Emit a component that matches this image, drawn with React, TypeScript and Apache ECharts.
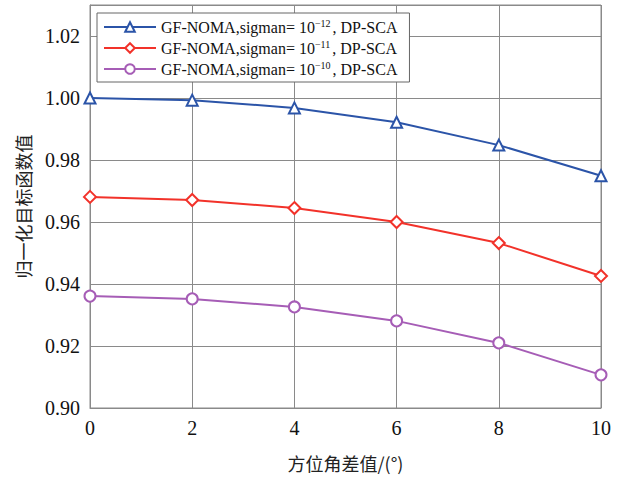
import React, { useEffect, useRef } from "react";
import * as echarts from "echarts";

const xValues = [0, 2, 4, 6, 8, 10];
const blueValues = [1.0, 0.9993, 0.9968, 0.9922, 0.9848, 0.9749];
const redValues = [0.9681, 0.9671, 0.9645, 0.96, 0.9532, 0.9426];
const purpleValues = [0.9361, 0.9352, 0.9326, 0.9281, 0.921, 0.9107];
const seriesNames = ["s12", "s11", "s10"];
const seriesExps = ["−12", "−11", "−10"];
const seriesColors = ["#2b54a8", "#f2322a", "#a65db6"];
const seriesSymbols = ["triangle", "diamond", "circle"];
const xAxisName = "方位角差值/(°)";
const yAxisName = "归一化目标函数值";

export default function App() {
  const ref = useRef<HTMLDivElement>(null);
  useEffect(() => {
    if (!ref.current) return;
    const chart = echarts.init(ref.current, null, { renderer: "svg" });
    const allValues = [blueValues, redValues, purpleValues];
    const font = "'Liberation Serif', 'Times New Roman', serif";
    chart.setOption({
      animation: false,
      backgroundColor: "#fff",
      grid: { left: 90, right: 23, top: 5, bottom: 69, show: true, borderColor: "#8a8a8a", borderWidth: 1 },
      legend: {
        orient: "vertical",
        left: 97,
        top: 13,
        data: seriesNames,
        backgroundColor: "#fff",
        borderColor: "#666",
        borderWidth: 1,
        borderRadius: 0,
        padding: [5, 12, 5, 6],
        itemGap: 4,
        itemWidth: 52,
        itemHeight: 12,
        formatter: (name: string) => {
          const i = seriesNames.indexOf(name);
          return "GF-NOMA,sigman= 10{sup|" + seriesExps[i] + "}, DP-SCA";
        },
        textStyle: {
          fontFamily: font,
          fontSize: 16,
          color: "#111",
          rich: {
            sup: { fontFamily: font, fontSize: 10, verticalAlign: "top", padding: [0, 2, 8, 0], color: "#111" },
          },
        },
      },
      xAxis: {
        type: "value",
        min: 0,
        max: 10,
        interval: 2,
        name: xAxisName,
        nameLocation: "middle",
        nameGap: 46,
        nameTextStyle: { fontFamily: "'Noto Sans CJK SC', sans-serif", fontSize: 18, color: "#222" },
        axisLine: { show: true, lineStyle: { color: "#8a8a8a" } },
        axisTick: { show: false },
        axisLabel: { fontFamily: font, fontSize: 20, color: "#111", margin: 10 },
        splitLine: { show: true, lineStyle: { color: "#8a8a8a", width: 1 } },
      },
      yAxis: {
        type: "value",
        min: 0.9,
        max: 1.03,
        interval: 0.02,
        name: yAxisName,
        nameLocation: "middle",
        nameGap: 58,
        nameTextStyle: { fontFamily: "'Noto Sans CJK SC', sans-serif", fontSize: 18, color: "#222" },
        axisLine: { show: true, lineStyle: { color: "#8a8a8a" } },
        axisTick: { show: false },
        axisLabel: {
          fontFamily: font,
          fontSize: 20,
          color: "#111",
          margin: 10,
          showMaxLabel: false,
          formatter: (v: number) => v.toFixed(2),
        },
        splitLine: { show: true, lineStyle: { color: "#8a8a8a", width: 1 } },
      },
      series: seriesNames.map((name, i) => ({
        name,
        type: "line",
        data: xValues.map((x, j) => [x, allValues[i][j]]),
        symbol: seriesSymbols[i],
        symbolSize: i === 1 ? 12 : 11,
        showAllSymbol: true,
        clip: false,
        lineStyle: { color: seriesColors[i], width: 2 },
        itemStyle: { color: "#fff", borderColor: seriesColors[i], borderWidth: 2 },
        color: seriesColors[i],
        z: 3 - i + 2,
      })),
    });
    return () => chart.dispose();
  }, []);
  return <div ref={ref} style={{ width: 624, height: 477, position: "absolute", left: 0, top: 0 }} />;
}
